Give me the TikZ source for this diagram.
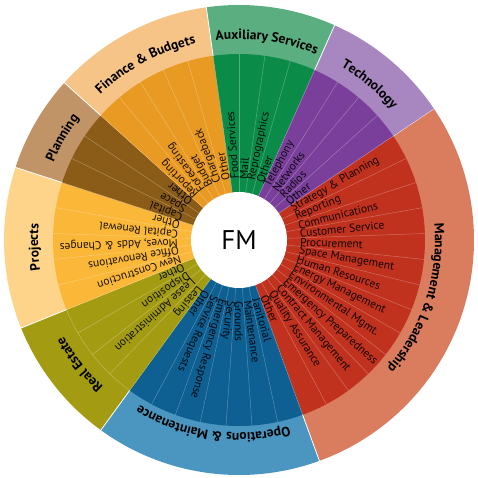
\documentclass[tikz,border=0pt]{standalone}
\usepackage{fontspec}
\setmainfont{PT Sans}
\usetikzlibrary{calc, decorations.text}
\definecolor{mgmtIn}{HTML}{C0311E}
\definecolor{mgmtOut}{HTML}{DA7C5E}
\definecolor{opsIn}{HTML}{0E5F92}
\definecolor{opsOut}{HTML}{4A96C0}
\definecolor{reIn}{HTML}{A39C12}
\definecolor{reOut}{HTML}{A39C12}
\definecolor{prjIn}{HTML}{FBB838}
\definecolor{prjOut}{HTML}{FDD48A}
\definecolor{plnIn}{HTML}{8A5C17}
\definecolor{plnOut}{HTML}{C19467}
\definecolor{finIn}{HTML}{E99A22}
\definecolor{finOut}{HTML}{F7C488}
\definecolor{auxIn}{HTML}{0A8C48}
\definecolor{auxOut}{HTML}{5BAE80}
\definecolor{techIn}{HTML}{7A3F9A}
\definecolor{techOut}{HTML}{A886C0}
\newcommand{\catfont}{\bfseries\fontsize{13.5}{14}\selectfont}

\begin{document}
\begin{tikzpicture}[
    x = 1pt, y = 1pt,
    item/.style = {anchor=west, inner sep=0pt, text opacity=0.9,
        font=\fontsize{11.5}{12}\selectfont},
    sep/.style = {draw=white, line width=0.8pt},
    wedge/.style = {draw=white, draw opacity=0.3, line width=0.5pt},
    cat/.style = {decorate, decoration={text along path, text align=center, text={|\catfont|#1}}}
  ]
  \useasboundingbox (-239,-238) rectangle (239,240);

  % sectors: start/end angle, inner and outer colour
  \foreach \a/\b/\cin/\cout in {34/-70/mgmtIn/mgmtOut, -70/-126/opsIn/opsOut,
      -126/-158/reIn/reOut, 202/162/prjIn/prjOut, 162/138/plnIn/plnOut,
      138/98/finIn/finOut, 98/66/auxIn/auxOut, 66/34/techIn/techOut}
  {
    \fill[\cout] (0,0) -- (\a:235) arc[start angle=\a, end angle=\b, radius=235] -- cycle;
    \fill[\cin] (0,0) -- (\a:186) arc[start angle=\a, end angle=\b, radius=186] -- cycle;
    \draw[sep] (\a:186) -- (\a:236);
  }
  \draw[wedge] (-126:186) arc[start angle=-126, end angle=-158, radius=186];

  \foreach \k in {0,...,44}
    \draw[wedge] ({34-8*\k}:48) -- ({34-8*\k}:186);

  \fill[white] (0,0) circle (48);
  \node (fm) at (0,0) {\fontsize{27}{30}\selectfont FM};

  \foreach \t [count=\k from 0] in {Strategy \& Planning, Reporting, Communications,
      Customer Service, Procurement, Space Management, Human Resources,
      Energy Management, Environmental Mgmt., Emergency Preparedness,
      Contract Management, Quality Assurance, Other,
      Janitorial, Maintenance, Grounds, Security, Emergency Response,
      Service Requests, Other,
      Leasing, Lease Administration, Disposition, Other,
      New Construction, Office Renovations, {Moves, Adds \& Changes},
      Capital Renewal, Other,
      Capital, Space, Other,
      Reporting, Forecasting, Budget, Chargeback, Other,
      Food Services, Mail, Reprographics, Other,
      Telephony, Networks, Radios, Other}
    \node[item, rotate=30-8*\k] (i\k) at ({30-8*\k}:61) {\t};

  \path[cat={Management {\&} Leadership}] (34:196) arc[start angle=34, end angle=-70, radius=196];
  \path[cat={Operations {\&} Maintenance}] (-70:193) arc[start angle=-70, end angle=-126, radius=193];
  \path[cat={Real Estate}] (-126:200) arc[start angle=-126, end angle=-158, radius=200];
  \path[cat={Projects}] (202:201) arc[start angle=202, end angle=162, radius=201];
  \path[cat={Planning}] (162:201) arc[start angle=162, end angle=138, radius=201];
  \path[cat={Finance {\&} Budgets}] (138:201) arc[start angle=138, end angle=98, radius=201];
  \path[cat={Auxiliary Services}] (98:201) arc[start angle=98, end angle=66, radius=201];
  \path[cat={Technology}] (66:201) arc[start angle=66, end angle=34, radius=201];
\end{tikzpicture}
\end{document}
